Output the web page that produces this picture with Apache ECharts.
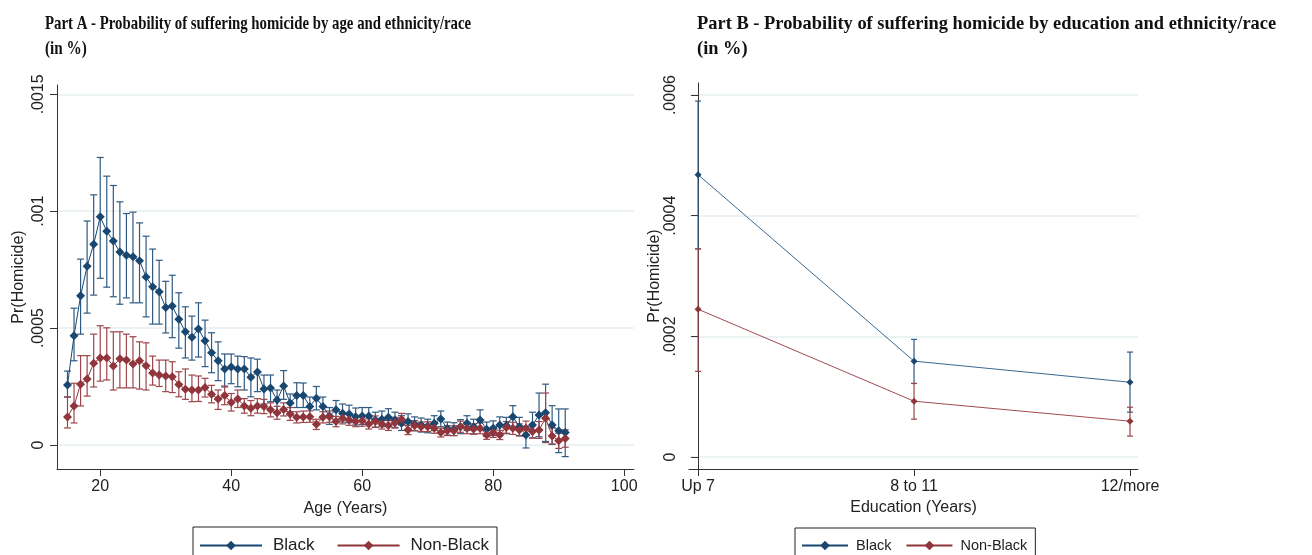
<!DOCTYPE html>
<html>
<head>
<meta charset="utf-8">
<script src="https://cdn.jsdelivr.net/npm/echarts@6/dist/echarts.min.js"></script>
<style>
  html, body { margin: 0; padding: 0; background: #fff; }
  #chart { width: 1312px; height: 555px; }
</style>
</head>
<body>
<div id="chart"></div>
<script>
// Part A: age in years
var ages = [15, 16, 17, 18, 19, 20, 21, 22, 23, 24, 25, 26, 27, 28, 29, 30, 31, 32, 33, 34,
  35, 36, 37, 38, 39, 40, 41, 42, 43, 44, 45, 46, 47, 48, 49, 50, 51, 52, 53, 54,
  55, 56, 57, 58, 59, 60, 61, 62, 63, 64, 65, 66, 67, 68, 69, 70, 71, 72, 73, 74,
  75, 76, 77, 78, 79, 80, 81, 82, 83, 84, 85, 86, 87, 88, 89, 90, 91];

var blackAge = [0.000256, 0.000467, 0.000638, 0.000765, 0.000859, 0.000976, 0.000914, 0.000873, 0.000825, 0.000812,
  0.000805, 0.000788, 0.000719, 0.000677, 0.000655, 0.000588, 0.000594, 0.000538, 0.000484, 0.000461,
  0.000496, 0.000446, 0.000394, 0.000360, 0.000325, 0.000333, 0.000325, 0.000325, 0.000290, 0.000312,
  0.000239, 0.000244, 0.000192, 0.000252, 0.000179, 0.000212, 0.000212, 0.000164, 0.000200, 0.000164,
  0.000124, 0.000150, 0.000135, 0.000132, 0.000121, 0.000124, 0.000124, 0.000107, 0.000110, 0.000118,
  0.000107, 0.000093, 0.000100, 0.000090, 0.000085, 0.000081, 0.000093, 0.000111, 0.000070, 0.000067,
  0.000078, 0.000093, 0.000078, 0.000107, 0.000067, 0.000071, 0.000085, 0.000083, 0.000121, 0.000078,
  0.000043, 0.000085, 0.000128, 0.000138, 0.000085, 0.000061, 0.000053];
var blackAgeHi = [0.000316, 0.000585, 0.000795, 0.000958, 0.00107, 0.00123, 0.00115, 0.00111, 0.00104, 0.00099,
  0.000996, 0.00095, 0.000893, 0.000838, 0.00079, 0.00070, 0.000726, 0.000651, 0.000591, 0.000551,
  0.000608, 0.000534, 0.00048, 0.000441, 0.000389, 0.000389, 0.00038, 0.000378, 0.000372, 0.000367,
  0.000299, 0.000299, 0.000235, 0.000318, 0.000218, 0.000266, 0.000265, 0.000205, 0.000250, 0.000205,
  0.000160, 0.000190, 0.000175, 0.000170, 0.000158, 0.000160, 0.000160, 0.000140, 0.000145, 0.000155,
  0.000140, 0.000125, 0.000133, 0.000120, 0.000115, 0.000110, 0.000125, 0.000145, 0.000098, 0.000095,
  0.000108, 0.000125, 0.000110, 0.000150, 0.000098, 0.000103, 0.000120, 0.000118, 0.000168, 0.000118,
  0.000080, 0.000140, 0.000222, 0.000260, 0.000168, 0.000154, 0.000154];
var blackAgeLo = [0.000205, 0.000360, 0.000474, 0.000564, 0.000641, 0.000713, 0.000675, 0.000634, 0.000602, 0.000629,
  0.000608, 0.000608, 0.000548, 0.000517, 0.000517, 0.000479, 0.000459, 0.000414, 0.000372, 0.000363,
  0.000376, 0.000335, 0.000309, 0.000275, 0.000248, 0.000262, 0.000249, 0.000235, 0.000206, 0.000228,
  0.000175, 0.000185, 0.000137, 0.000195, 0.000142, 0.000160, 0.000160, 0.000122, 0.000150, 0.000122,
  0.000088, 0.000110, 0.000098, 0.000095, 0.000085, 0.000088, 0.000088, 0.000075, 0.000078, 0.000082,
  0.000075, 0.000062, 0.000068, 0.000060, 0.000055, 0.000052, 0.000062, 0.000078, 0.000042, 0.000040,
  0.000048, 0.000062, 0.000047, 0.000065, 0.000037, 0.000040, 0.000050, 0.000048, 0.000075, 0.000040,
  -0.000013, 0.000030, 0.000035, 0.000015, 0.000002, -0.000033, -0.000050];

var nonBlackAge = [0.000120, 0.000167, 0.000260, 0.000282, 0.000350, 0.000372, 0.000372, 0.000338, 0.000369, 0.000363,
  0.000346, 0.000360, 0.000339, 0.000308, 0.000299, 0.000295, 0.000292, 0.000259, 0.000238, 0.000235,
  0.000235, 0.000246, 0.000217, 0.000197, 0.000211, 0.000181, 0.000197, 0.000167, 0.000157, 0.000167,
  0.000164, 0.000150, 0.000138, 0.000152, 0.000132, 0.000118, 0.000120, 0.000121, 0.000088, 0.000118,
  0.000121, 0.000100, 0.000114, 0.000107, 0.000100, 0.000103, 0.000090, 0.000100, 0.000090, 0.000083,
  0.000095, 0.000110, 0.000064, 0.000083, 0.000078, 0.000078, 0.000071, 0.000053, 0.000061, 0.000061,
  0.000078, 0.000071, 0.000068, 0.000071, 0.000043, 0.000053, 0.000043, 0.000075, 0.000071, 0.000064,
  0.000071, 0.000057, 0.000064, 0.000114, 0.000038, 0.000018, 0.000028];
var nonBlackAgeHi = [0.000205, 0.000264, 0.000382, 0.000382, 0.000474, 0.000510, 0.000501, 0.000484, 0.000484, 0.000474,
  0.000463, 0.000441, 0.000437, 0.000380, 0.000363, 0.000363, 0.000356, 0.000313, 0.000325, 0.000299,
  0.000295, 0.000285, 0.000255, 0.000235, 0.000252, 0.000220, 0.000235, 0.000198, 0.000190, 0.000198,
  0.000195, 0.000180, 0.000165, 0.000180, 0.000160, 0.000142, 0.000145, 0.000146, 0.000110, 0.000142,
  0.000145, 0.000122, 0.000138, 0.000130, 0.000122, 0.000126, 0.000112, 0.000124, 0.000112, 0.000104,
  0.000118, 0.000135, 0.000084, 0.000104, 0.000098, 0.000099, 0.000092, 0.000072, 0.000082, 0.000082,
  0.000102, 0.000094, 0.000090, 0.000094, 0.000062, 0.000074, 0.000063, 0.000100, 0.000097, 0.000090,
  0.000102, 0.000085, 0.000100, 0.000222, 0.000072, 0.000050, 0.000065];
var nonBlackAgeLo = [0.0000726, 0.000094, 0.000167, 0.000209, 0.000248, 0.000273, 0.000278, 0.000235, 0.000244, 0.000244,
  0.000244, 0.000239, 0.000235, 0.000256, 0.000250, 0.000228, 0.000224, 0.000206, 0.000195, 0.000185,
  0.000186, 0.000205, 0.000180, 0.000152, 0.000172, 0.000145, 0.000160, 0.000136, 0.000125, 0.000136,
  0.000134, 0.000120, 0.000110, 0.000124, 0.000105, 0.000094, 0.000096, 0.000097, 0.000066, 0.000094,
  0.000097, 0.000078, 0.000090, 0.000084, 0.000078, 0.000080, 0.000068, 0.000076, 0.000068, 0.000062,
  0.000072, 0.000085, 0.000044, 0.000062, 0.000058, 0.000057, 0.000050, 0.000034, 0.000040, 0.000040,
  0.000054, 0.000048, 0.000046, 0.000048, 0.000024, 0.000032, 0.000023, 0.000050, 0.000045, 0.000038,
  0.000040, 0.000029, 0.000028, 0.000010, 0.000004, -0.000015, -0.000010];

// Part B: education groups
var eduLabels = ['Up 7', '8 to 11', '12/more'];
var eduPos = [0, 1, 2];
var blackEdu = [0.000468, 0.000159, 0.000124];
var blackEduHi = [0.000590, 0.000195, 0.000174];
var blackEduLo = [0.000345, 0.000122, 0.0000744];
var nonBlackEdu = [0.000245, 0.0000926, 0.0000595];
var nonBlackEduHi = [0.000345, 0.000122, 0.0000826];
var nonBlackEduLo = [0.000142, 0.0000628, 0.0000347];

var ageTicks = [20, 40, 60, 80, 100];
var yTicksA = [0, 0.0005, 0.001, 0.0015];
var yTicksB = [0, 0.0002, 0.0004, 0.0006];

var BLUE = '#1a476f';
var RED = '#90353b';
var sans = "'Liberation Sans', Arial, sans-serif";
var serifBold = "bold 19px 'Liberation Serif', 'Times New Roman', serif";

function pairs(xs, ys) {
  return xs.map(function (x, i) { return [x, ys[i]]; });
}
function triples(xs, lo, hi) {
  return xs.map(function (x, i) { return [x, lo[i], hi[i]]; });
}
function fmtY(v) {
  return v === 0 ? '0' : String(v).replace('0.', '.');
}

function capRenderer(color, capHalf) {
  return function (params, api) {
    var x = api.value(0);
    var lo = api.coord([x, api.value(1)]);
    var hi = api.coord([x, api.value(2)]);
    var st = { stroke: color, lineWidth: 1.2 };
    return {
      type: 'group',
      children: [
        { type: 'line', shape: { x1: lo[0], y1: lo[1], x2: hi[0], y2: hi[1] }, style: st },
        { type: 'line', shape: { x1: hi[0] - capHalf, y1: hi[1], x2: hi[0] + capHalf, y2: hi[1] }, style: st },
        { type: 'line', shape: { x1: lo[0] - capHalf, y1: lo[1], x2: lo[0] + capHalf, y2: lo[1] }, style: st }
      ]
    };
  };
}

function yAxis(gridIndex, min, max, ticks, nameGap) {
  return {
    gridIndex: gridIndex, type: 'value', min: min, max: max,
    name: 'Pr(Homicide)', nameLocation: 'middle', nameGap: nameGap, nameRotate: 90,
    nameTextStyle: { fontFamily: sans, fontSize: 16, color: '#222' },
    axisLine: { show: true, lineStyle: { color: '#333', width: 1 } },
    axisTick: { show: true, length: 7, customValues: ticks, lineStyle: { color: '#333' } },
    axisLabel: { customValues: ticks, rotate: 90, margin: 10, fontFamily: sans, fontSize: 16, color: '#222', formatter: fmtY },
    splitLine: { show: true, lineStyle: { color: '#e6eff1', width: 1.5 } }
  };
}

var chart = echarts.init(document.getElementById('chart'));
chart.setOption({
  animation: false,
  graphic: [
    { type: 'text', x: 45, y: 15, scaleX: 0.78, style: { text: 'Part A - Probability of suffering homicide by age and ethnicity/race', font: serifBold, fill: '#111' } },
    { type: 'text', x: 45, y: 40, scaleX: 0.8, style: { text: '(in %)', font: serifBold, fill: '#111' } },
    { type: 'text', x: 697, y: 15, scaleX: 0.97, style: { text: 'Part B - Probability of suffering homicide by education and ethnicity/race', font: serifBold, fill: '#111' } },
    { type: 'text', x: 697, y: 40, scaleX: 0.97, style: { text: '(in %)', font: serifBold, fill: '#111' } }
  ],
  grid: [
    { left: 57, top: 85, width: 577, height: 384 },
    { left: 689, top: 83, width: 449, height: 386 }
  ],
  legend: [
    {
      data: ['Black', 'Non-Black'], left: 193, top: 527, orient: 'horizontal',
      itemWidth: 62, itemHeight: 12, itemGap: 22, padding: [10, 8, 10, 6],
      borderColor: '#222', borderWidth: 1,
      textStyle: { fontFamily: sans, fontSize: 17, color: '#222', padding: [0, 0, 0, 6] }
    },
    {
      data: ['Black', 'Non-Black'], left: 795, top: 528, orient: 'horizontal',
      itemWidth: 46, itemHeight: 12, itemGap: 14, padding: [10, 8, 10, 6],
      borderColor: '#222', borderWidth: 1,
      textStyle: { fontFamily: sans, fontSize: 14.5, color: '#222', padding: [0, 0, 0, 3] }
    }
  ],
  xAxis: [
    {
      gridIndex: 0, type: 'value', min: 13.4, max: 101.5,
      name: 'Age (Years)', nameLocation: 'middle', nameGap: 32,
      nameTextStyle: { fontFamily: sans, fontSize: 16, color: '#222' },
      axisLine: { show: true, onZero: false, lineStyle: { color: '#333', width: 1 } },
      axisTick: { show: true, length: 7, customValues: ageTicks, lineStyle: { color: '#333' } },
      axisLabel: { customValues: ageTicks, margin: 10, fontFamily: sans, fontSize: 16, color: '#222' },
      splitLine: { show: false }
    },
    {
      gridIndex: 1, type: 'value', min: -0.042, max: 2.037,
      name: 'Education (Years)', nameLocation: 'middle', nameGap: 31,
      nameTextStyle: { fontFamily: sans, fontSize: 16, color: '#222' },
      axisLine: { show: true, onZero: false, lineStyle: { color: '#333', width: 1 } },
      axisTick: { show: true, length: 7, customValues: eduPos, lineStyle: { color: '#333' } },
      axisLabel: {
        customValues: eduPos, margin: 10, fontFamily: sans, fontSize: 16, color: '#222',
        formatter: function (v) { return eduLabels[Math.round(v)]; }
      },
      splitLine: { show: false }
    }
  ],
  yAxis: [
    yAxis(0, -0.000103, 0.00154, yTicksA, 30),
    yAxis(1, -0.0000198, 0.00062, yTicksB, 20)
  ],
  series: [
    { type: 'custom', xAxisIndex: 0, yAxisIndex: 0, renderItem: capRenderer('#2f5a82', 3.5), encode: { x: 0, y: [1, 2] }, data: triples(ages, blackAgeLo, blackAgeHi), z: 1 },
    { type: 'custom', xAxisIndex: 0, yAxisIndex: 0, renderItem: capRenderer('#9c454b', 3.5), encode: { x: 0, y: [1, 2] }, data: triples(ages, nonBlackAgeLo, nonBlackAgeHi), z: 1 },
    { name: 'Black', type: 'line', xAxisIndex: 0, yAxisIndex: 0, data: pairs(ages, blackAge), symbol: 'diamond', symbolSize: 9,
      itemStyle: { color: BLUE }, lineStyle: { color: BLUE, width: 1 }, z: 3 },
    { name: 'Non-Black', type: 'line', xAxisIndex: 0, yAxisIndex: 0, data: pairs(ages, nonBlackAge), symbol: 'diamond', symbolSize: 9,
      itemStyle: { color: RED }, lineStyle: { color: RED, width: 1 }, z: 4 },
    { type: 'custom', xAxisIndex: 1, yAxisIndex: 1, renderItem: capRenderer('#2f5a82', 3), encode: { x: 0, y: [1, 2] }, data: triples(eduPos, blackEduLo, blackEduHi), z: 1 },
    { type: 'custom', xAxisIndex: 1, yAxisIndex: 1, renderItem: capRenderer('#9c454b', 3), encode: { x: 0, y: [1, 2] }, data: triples(eduPos, nonBlackEduLo, nonBlackEduHi), z: 1 },
    { name: 'Black', type: 'line', xAxisIndex: 1, yAxisIndex: 1, data: pairs(eduPos, blackEdu), symbol: 'diamond', symbolSize: 7,
      itemStyle: { color: BLUE }, lineStyle: { color: '#3a6890', width: 1 }, z: 3 },
    { name: 'Non-Black', type: 'line', xAxisIndex: 1, yAxisIndex: 1, data: pairs(eduPos, nonBlackEdu), symbol: 'diamond', symbolSize: 7,
      itemStyle: { color: RED }, lineStyle: { color: '#a04a50', width: 1 }, z: 4 }
  ]
});
</script>
</body>
</html>
